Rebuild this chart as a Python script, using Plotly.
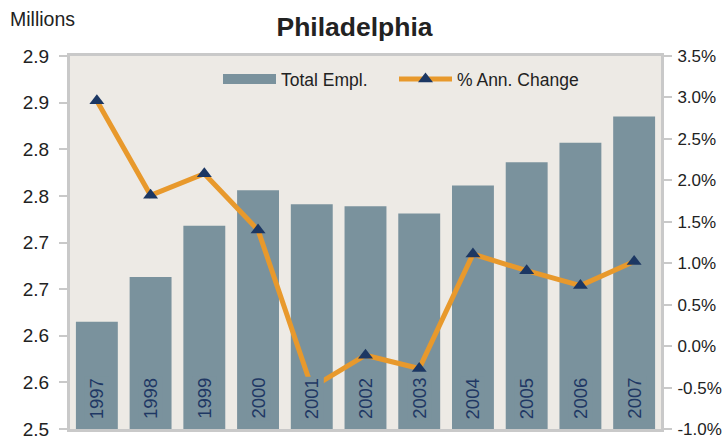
import plotly.graph_objects as go

years = [1997, 1998, 1999, 2000, 2001, 2002, 2003, 2004, 2005, 2006, 2007]
total_empl = [2.615, 2.663, 2.718, 2.756, 2.741, 2.739, 2.731, 2.761, 2.786, 2.807, 2.835]
pct_change = [2.96, 1.82, 2.08, 1.40, -0.50, -0.11, -0.27, 1.11, 0.91, 0.73, 1.02]

left_tickvals = [2.5, 2.55, 2.6, 2.65, 2.7, 2.75, 2.8, 2.85, 2.9]
left_ticktext = ["2.5", "2.6", "2.6", "2.7", "2.7", "2.8", "2.8", "2.9", "2.9"]
right_tickvals = [-1.0, -0.5, 0.0, 0.5, 1.0, 1.5, 2.0, 2.5, 3.0, 3.5]
right_ticktext = ["-1.0%", "-0.5%", "0.0%", "0.5%", "1.0%", "1.5%", "2.0%", "2.5%", "3.0%", "3.5%"]

BAR = "#7A929D"
NAVY = "#1C3763"
ORANGE = "#E8992C"
FRAME = "#C9C9C9"
FONT = "Liberation Sans, Arial, sans-serif"

fig = go.Figure()
fig.add_trace(go.Bar(
    x=years, y=total_empl, name="Total Empl.",
    marker=dict(color=BAR, line=dict(width=0)),
    width=0.78, showlegend=False, legendgroup="empl",
    xaxis="x", yaxis="y",
))
# legend-only entry giving the wide rectangular swatch of the reference
fig.add_trace(go.Scatter(
    x=[None], y=[None], name="Total Empl.", mode="lines",
    line=dict(color=BAR, width=12), legendgroup="empl", legend="legend",
    xaxis="x", yaxis="y", hoverinfo="skip",
))
fig.add_trace(go.Scatter(
    x=years, y=pct_change, name="% Ann. Change",
    mode="lines+markers",
    line=dict(color=ORANGE, width=5),
    marker=dict(symbol="triangle-up", size=13, color=NAVY),
    legend="legend2",
    xaxis="x", yaxis="y2",
))

annotations = []
for yr in years:
    annotations.append(dict(
        x=yr, y=2.5, xref="x", yref="y", text=str(yr), showarrow=False,
        textangle=-90, yanchor="bottom", xanchor="center", yshift=8,
        font=dict(family="Liberation Sans Narrow, Arial Narrow, Liberation Sans, sans-serif", size=18.5, color="#1F3864"),
        bgcolor=BAR, borderpad=1,
    ))
annotations.append(dict(
    x=0, y=1, xref="paper", yref="paper", xanchor="left", yanchor="bottom",
    xshift=-62, yshift=24, text="Millions", showarrow=False,
    font=dict(family=FONT, size=19.5, color="#222222"),
))

legend_common = dict(
    orientation="h", xanchor="left", yanchor="middle",
    y=(429 - 79) / 373,
    bgcolor="rgba(0,0,0,0)", font=dict(family=FONT, size=17.5, color="#222222"),
    itemwidth=53,
)

fig.update_layout(
    width=724, height=439,
    margin=dict(l=70, r=63, t=56, b=10, autoexpand=False),
    paper_bgcolor="white",
    plot_bgcolor="#EDEAE5",
    title=dict(
        text="<b>Philadelphia</b>", x=354.5 / 724, xref="container", xanchor="center",
        y=1 - 27 / 439, yref="container", yanchor="middle",
        font=dict(family=FONT, size=26.5, color="#222222"),
    ),
    showlegend=True,
    legend=dict(x=(218 - 70) / 591, **legend_common),
    legend2=dict(x=(394 - 70) / 591, **legend_common),
    xaxis=dict(
        type="linear", range=[1996.5, 2007.5], automargin=False,
        showticklabels=False, ticks="", showgrid=False, zeroline=False,
        showline=True, linecolor=FRAME, linewidth=3, mirror=True,
    ),
    yaxis=dict(
        range=[2.5, 2.9], tickvals=left_tickvals, ticktext=left_ticktext,
        ticks="outside", ticklen=8, tickcolor=FRAME, tickwidth=1.5,
        showgrid=False, zeroline=False, automargin=False,
        showline=True, linecolor=FRAME, linewidth=3,
        tickfont=dict(family=FONT, size=19, color="#222222"),
        ticklabelstandoff=6, ticklabeloverflow="allow",
    ),
    yaxis2=dict(
        range=[-1.0, 3.5], tickvals=right_tickvals, ticktext=right_ticktext,
        overlaying="y", side="right", automargin=False,
        ticks="outside", ticklen=8, tickcolor=FRAME, tickwidth=1.5,
        showgrid=False, zeroline=False,
        showline=True, linecolor=FRAME, linewidth=3,
        tickfont=dict(family=FONT, size=17, color="#222222"),
        ticklabelstandoff=2, ticklabeloverflow="allow",
    ),
    annotations=annotations,
)

fig.write_html("out.html", config={"displayModeBar": False},
               post_script="document.body.style.margin='0';")
